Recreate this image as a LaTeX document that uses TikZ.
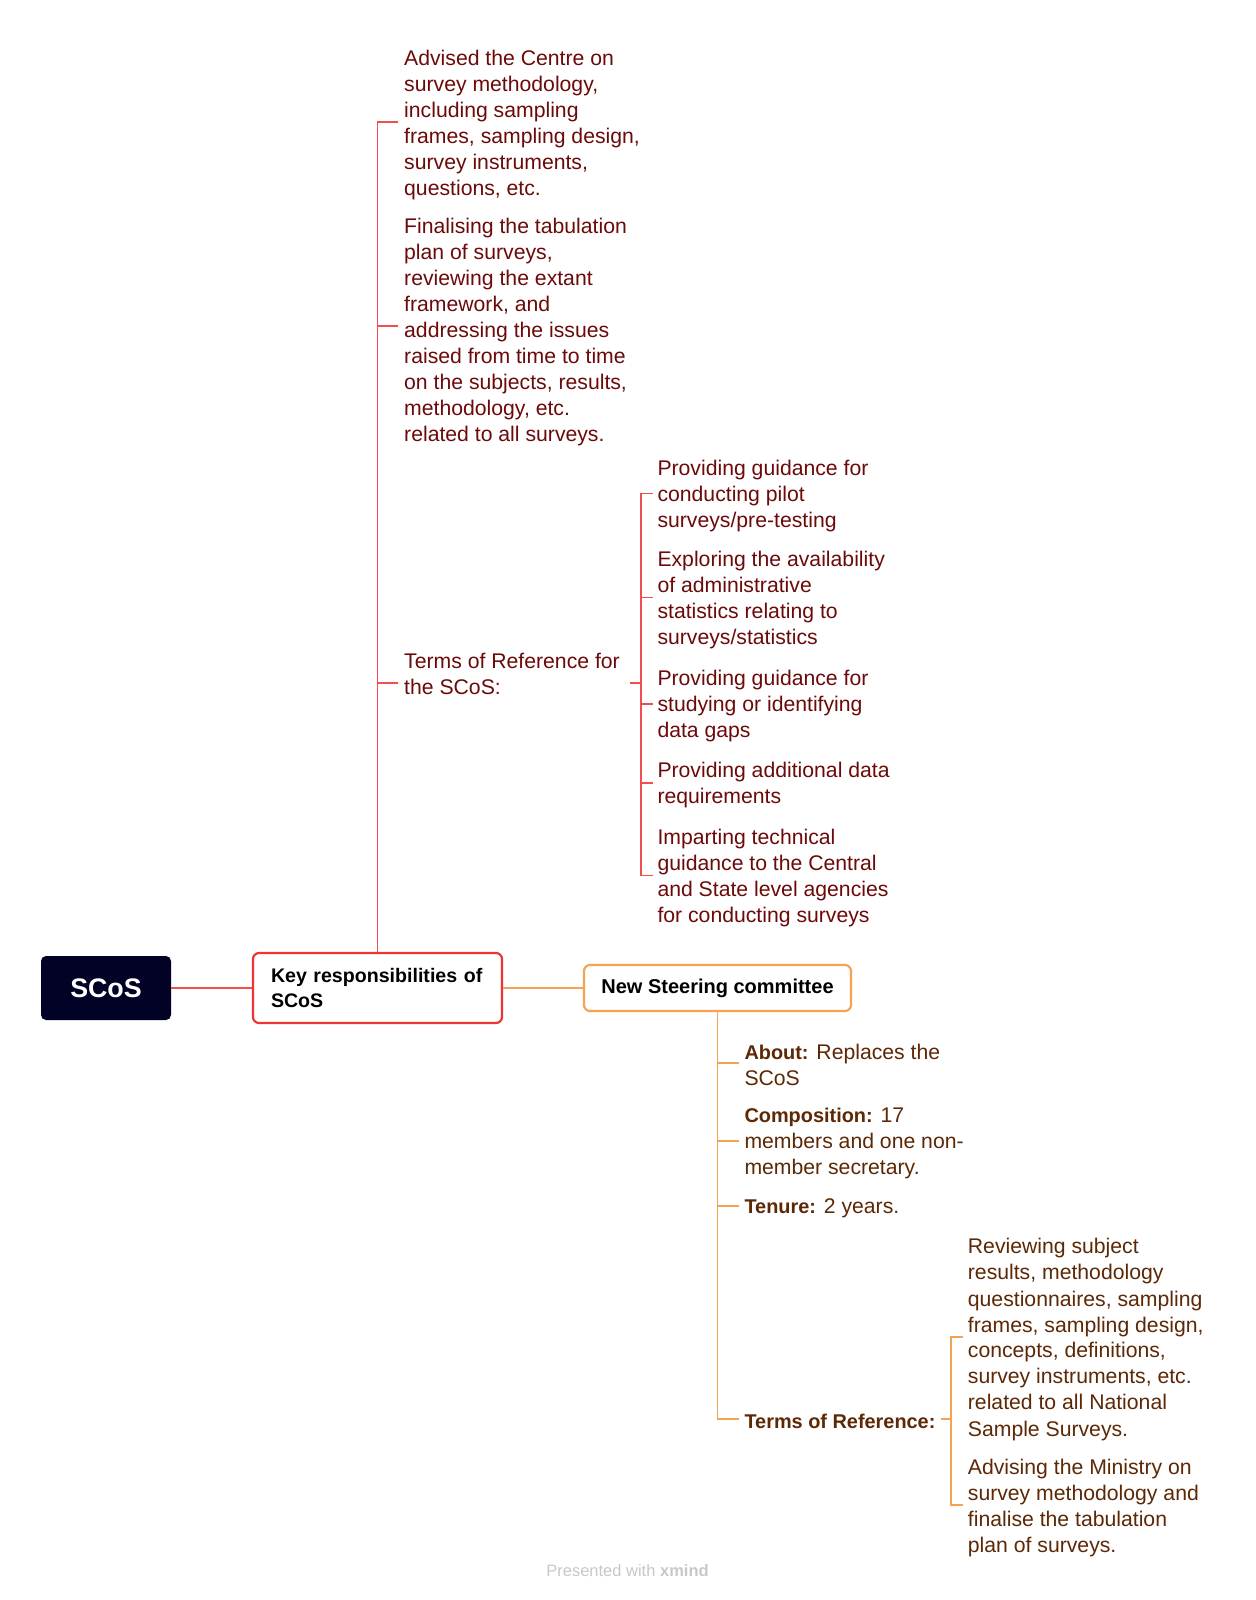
\documentclass[tikz,border=0pt]{standalone}
\usepackage{fontspec}
\setmainfont{Liberation Sans}
\usetikzlibrary{calc}
\definecolor{navy}{RGB}{2,2,38}
\definecolor{redb}{RGB}{238,52,52}
\definecolor{redl}{RGB}{242,78,78}
\definecolor{orng}{RGB}{246,162,82}
\definecolor{maroon}{RGB}{108,10,10}
\definecolor{brownt}{RGB}{92,40,5}
\definecolor{wm}{RGB}{200,200,200}
\newcommand{\lbl}[1]{{\fontsize{19.9}{26}\selectfont\bfseries #1}}
\tikzset{
  redline/.style={draw=redl, line width=1.8pt},
  orangeline/.style={draw=orng, line width=1.8pt},
  leafR/.style={anchor=west, inner sep=0pt, yshift=-2.5pt, align=left, text=maroon, font=\fontsize{21.2}{26}\selectfont},
  leafO/.style={anchor=west, inner sep=0pt, yshift=-2.5pt, align=left, text=brownt, font=\fontsize{21.2}{26}\selectfont},
  rootbox/.style={fill=navy, rounded corners=5pt, minimum width=130pt, minimum height=64pt, text=white, font=\bfseries\fontsize{26.8}{32}\selectfont},
  keybox/.style={draw=redb, line width=2.2pt, fill=white, rounded corners=6pt, text width=213pt, inner xsep=18pt, minimum height=70pt, align=left, font=\bfseries\fontsize{19.6}{25.5}\selectfont},
  nscbox/.style={draw=orng, line width=2.2pt, fill=white, rounded corners=6pt, minimum width=267pt, minimum height=46pt, font=\bfseries\fontsize{20}{24}\selectfont},
}
\begin{document}
\begin{tikzpicture}[x=1pt,y=-1pt]
\useasboundingbox[fill=white] (0,0) rectangle (1255,1600);

% red level-1 leaves
\node[leafR] (r1) at (404,122.5) {Advised the Centre on\\survey methodology,\\including sampling\\frames, sampling design,\\survey instruments,\\questions, etc.};
\node[leafR] (r2) at (404,330) {Finalising the tabulation\\plan of surveys,\\reviewing the extant\\framework, and\\addressing the issues\\raised from time to time\\on the subjects, results,\\methodology, etc.\\related to all surveys.};
\node[leafR] (r3) at (404,671.5) {Terms of Reference for\\the SCoS:};
\coordinate (r1b) at (398,121.7);
\coordinate (r2b) at (398,326);
\coordinate (r3b) at (398,683);
\coordinate (r3e) at (630,683);
\coordinate (t1s) at (641,683);

% red level-2 leaves
\node[leafR] (c1) at (657.3,493.5) {Providing guidance for\\conducting pilot\\surveys/pre-testing};
\node[leafR] (c2) at (657.3,597.5) {Exploring the availability\\of administrative\\statistics relating to\\surveys/statistics};
\node[leafR] (c3) at (657.3,704) {Providing guidance for\\studying or identifying\\data gaps};
\node[leafR] (c4) at (657.3,782.6) {Providing additional data\\requirements};
\node[leafR] (c5) at (657.3,875.5) {Imparting technical\\guidance to the Central\\and State level agencies\\for conducting surveys};

% orange leaves
\node[leafO] (o1) at (744.3,1062.7) {\lbl{About:} Replaces the\\SCoS};
\node[leafO] (o2) at (744.3,1141) {\lbl{Composition:} 17\\members and one non-\\member secretary.};
\node[leafO] (o3) at (744.3,1206) {\lbl{Tenure:} 2 years.};
\node[leafO] (o4) at (744.3,1419) {\lbl{Terms of Reference:}};
\coordinate (o4e) at (941,1419);
\coordinate (t2s) at (951,1419);
\node[leafO] (a1) at (967.7,1337) {Reviewing subject\\results, methodology\\questionnaires, sampling\\frames, sampling design,\\concepts, definitions,\\survey instruments, etc.\\related to all National\\Sample Surveys.};
\node[leafO] (a2) at (967.7,1505) {Advising the Ministry on\\survey methodology and\\finalise the tabulation\\plan of surveys.};

% main boxes
\node[rootbox] (scos) at (106,988) {SCoS};
\node[keybox] (key) at (377.5,988) {Key responsibilities of\\SCoS};
\node[nscbox] (nsc) at (717.5,988) {New Steering committee};

% red connectors
\draw[redline] (scos.east) -- (key.west);
\draw[redline] (key.north) |- (r1b);
\draw[redline] (key.north) |- (r2b);
\draw[redline] (key.north) |- (r3b);
\draw[redline] (r3e) -- (t1s);
\foreach \c in {c1,c2,c3,c4,c5}{
  \draw[redline] (t1s) |- ([xshift=-4pt,yshift=2.5pt]\c.west);
}

% orange connectors
\draw[orangeline] (key.east) -- (nsc.west);
\foreach \o in {o1,o2,o3,o4}{
  \draw[orangeline] (nsc.south) |- ([xshift=-5pt,yshift=2.5pt]\o.west);
}
\draw[orangeline] (o4e) -- (t2s);
\foreach \a in {a1,a2}{
  \draw[orangeline] (t2s) |- ([xshift=-4.5pt,yshift=2.5pt]\a.west);
}

% watermark
\node[text=wm, font=\fontsize{16.5}{20}\selectfont] (wmark) at (627.5,1571) {Presented with \textbf{xmind}};
\end{tikzpicture}
\end{document}
